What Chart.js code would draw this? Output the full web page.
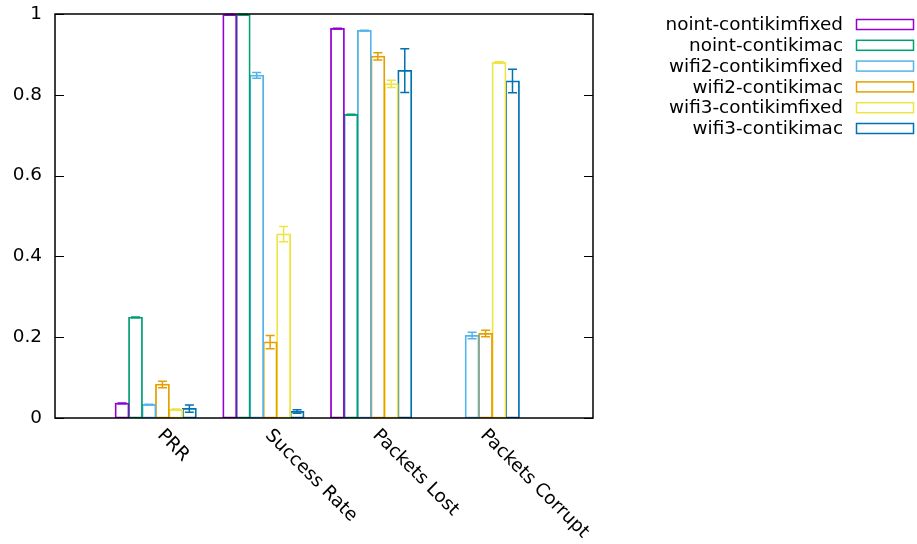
<!DOCTYPE html>
<html>
<head>
<meta charset="utf-8">
<script src="https://cdn.jsdelivr.net/npm/chart.js@4.4.1/dist/chart.umd.min.js"></script>
<style>
  html, body { margin: 0; padding: 0; background: #fff; }
  #chart { display: block; }
</style>
</head>
<body>
<canvas id="chart" width="917" height="544"></canvas>
<script>
// categories along x
const categories = ['PRR', 'Success Rate', 'Packets Lost', 'Packets Corrupt'];
const yTicks = [0, 0.2, 0.4, 0.6, 0.8, 1];

const seriesNames = [
  'noint-contikimfixed', 'noint-contikimac',
  'wifi2-contikimfixed', 'wifi2-contikimac',
  'wifi3-contikimfixed', 'wifi3-contikimac'
];

// mean per category
const nointFixed = [0.036, 0.998, 0.964, 0];
const nointMac   = [0.249, 0.998, 0.751, 0];
const wifi2Fixed = [0.033, 0.848, 0.959, 0.204];
const wifi2Mac   = [0.083, 0.188, 0.895, 0.209];
const wifi3Fixed = [0.021, 0.455, 0.827, 0.880];
const wifi3Mac   = [0.023, 0.016, 0.860, 0.834];

// error bar half-heights
const nointFixedErr = [0.001, 0.001, 0.001, 0];
const nointMacErr   = [0.001, 0.001, 0.001, 0];
const wifi2FixedErr = [0.001, 0.007, 0.001, 0.008];
const wifi2MacErr   = [0.008, 0.0165, 0.009, 0.008];
const wifi3FixedErr = [0.001, 0.019, 0.009, 0.002];
const wifi3MacErr   = [0.009, 0.0045, 0.054, 0.029];

const seriesValues = [nointFixed, nointMac, wifi2Fixed, wifi2Mac, wifi3Fixed, wifi3Mac];
const seriesErrors = [nointFixedErr, nointMacErr, wifi2FixedErr, wifi2MacErr, wifi3FixedErr, wifi3MacErr];
const colors = ['#9400d3', '#009e73', '#56b4e9', '#e69f00', '#f0e442', '#0072b2'];

const FONT_SIZE = 18.4;
const FONT = FONT_SIZE + 'px "DejaVu Sans"';

// gnuplot-ish extras: frame, inward ticks, error bars, slanted labels, key
const gnuplotBits = {
  id: 'gnuplotBits',
  afterDatasetsDraw(chart) {
    const { ctx, chartArea: a, scales: { x, y } } = chart;

    chart.data.datasets.forEach((ds, i) => {
      const meta = chart.getDatasetMeta(i);
      ctx.save();
      ctx.strokeStyle = ds.borderColor;
      ctx.lineWidth = 1.5;
      meta.data.forEach((bar, j) => {
        const e = ds.errors[j];
        if (!e) return;
        const v = ds.data[j].y;
        const top = y.getPixelForValue(v + e);
        const bot = y.getPixelForValue(Math.max(0, v - e));
        ctx.beginPath();
        ctx.moveTo(bar.x, top); ctx.lineTo(bar.x, bot);
        ctx.moveTo(bar.x - 4.5, top); ctx.lineTo(bar.x + 4.5, top);
        ctx.moveTo(bar.x - 4.5, bot); ctx.lineTo(bar.x + 4.5, bot);
        ctx.stroke();
      });
      ctx.restore();
    });

    ctx.save();
    ctx.strokeStyle = '#000';
    ctx.lineWidth = 1.5;
    ctx.strokeRect(a.left, a.top, a.right - a.left, a.bottom - a.top);
    ctx.lineWidth = 1;
    ctx.beginPath();
    yTicks.forEach(v => {
      const py = Math.round(y.getPixelForValue(v)) + 0.5;
      ctx.moveTo(a.left, py); ctx.lineTo(a.left + 9, py);
      ctx.moveTo(a.right, py); ctx.lineTo(a.right - 9, py);
    });
    ctx.stroke();

    ctx.fillStyle = '#000';
    ctx.font = FONT;
    ctx.textAlign = 'left';
    ctx.textBaseline = 'alphabetic';
    categories.forEach((c, i) => {
      ctx.save();
      ctx.translate(x.getPixelForValue(i) + 1, a.bottom + 18);
      ctx.rotate(Math.PI / 4);
      ctx.fillText(c, 0, 0);
      ctx.restore();
    });

    ctx.textAlign = 'right';
    ctx.textBaseline = 'middle';
    seriesNames.forEach((n, i) => {
      const cy = 24.5 + i * 20.8;
      ctx.fillStyle = '#000';
      ctx.fillText(n, 843, cy + 1);
      ctx.strokeStyle = colors[i];
      ctx.lineWidth = 1.5;
      ctx.strokeRect(856.5, cy - 5, 57, 10);
    });
    ctx.restore();
  }
};

new Chart(document.getElementById('chart'), {
  type: 'bar',
  data: {
    datasets: seriesNames.map((name, i) => ({
      label: name,
      data: seriesValues[i].map((v, j) => ({ x: j, y: v })),
      errors: seriesErrors[i],
      borderColor: colors[i],
      backgroundColor: 'rgba(0,0,0,0)',
      // thin border + inflate so neighbouring outlines overlap like gnuplot
      borderWidth: 0.5,
      inflateAmount: 0.65,
      borderSkipped: false
    }))
  },
  options: {
    responsive: false,
    animation: false,
    devicePixelRatio: 1,
    layout: { padding: { left: 0, top: 14, right: 324, bottom: 126 } },
    plugins: { legend: { display: false }, tooltip: { enabled: false } },
    datasets: { bar: { categoryPercentage: 0.75, barPercentage: 1 } },
    scales: {
      x: {
        type: 'linear', display: false, min: -0.935, max: 4.06, offset: false,
        // one tick per category so the bar width comes from the category spacing
        afterBuildTicks: s => { s.ticks = categories.map((c, i) => ({ value: i })); }
      },
      y: {
        min: 0, max: 1,
        afterFit: s => { s.width = 55; s.paddingTop = 0; s.paddingBottom = 0; },
        afterBuildTicks: s => { s.ticks = yTicks.map(v => ({ value: v })); },
        ticks: {
          padding: 13,
          color: '#000',
          font: { family: 'DejaVu Sans', size: FONT_SIZE },
          callback: v => String(v)
        },
        grid: { display: false, drawTicks: false },
        border: { display: false }
      }
    }
  },
  plugins: [gnuplotBits]
});
</script>
</body>
</html>
